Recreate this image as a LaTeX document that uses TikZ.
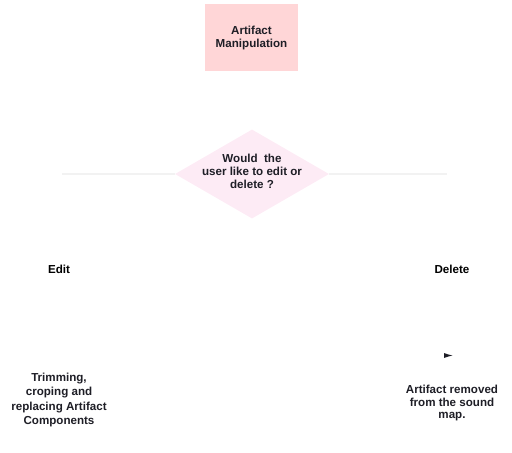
\documentclass[tikz,border=0pt]{standalone}
\usepackage{fontspec}
\setmainfont{Liberation Sans}
\usepackage{tikz}
\usetikzlibrary{positioning}
\usetikzlibrary{shapes.geometric}
\usetikzlibrary{arrows.meta}
\definecolor{boxpink}{RGB}{255,214,215}
\definecolor{diapink}{RGB}{253,235,245}
\definecolor{faintline}{RGB}{242,242,242}
\definecolor{inkgray}{RGB}{30,30,38}
\begin{document}
\begin{tikzpicture}[x=1pt, y=-1pt,
				internal/.style={rectangle, fill=boxpink, inner sep=4pt},
				decision/.style={diamond, fill=diapink, inner sep=0pt, aspect=1.74},
				txt/.style={text=inkgray, font=\bfseries\fontsize{11.6}{13}\selectfont},
				every text node part/.style={align=center}]
				\useasboundingbox (0,0) rectangle (512,453);
				
				\node[internal, txt, minimum width=93pt, minimum height=67pt](node1) at (251.5, 37.5) {Artifact\\Manipulation};
				
				\node[decision, minimum width=154pt, minimum height=89pt](node2) at (252, 174) {};
				\node[txt, yshift=3pt](node21) at (node2.center) {Would\ \ the\\user like to edit or\\delete ?};
				
				\node[txt, text=black](node3) at (59, 269) {Edit};
				\node[txt, text=black](node31) at (452, 269) {Delete};
				
				\node[txt, font=\bfseries\fontsize{11.6}{14.4}\selectfont](node4) at (59, 400) {Trimming,\\croping and\\replacing Artifact\\Components};
				\node[txt, font=\bfseries\fontsize{11.6}{12.6}\selectfont](node41) at (452, 403) {Artifact removed\\from the sound\\map.};
				
				\coordinate (left) at (62, 175);
				\coordinate (right) at (447, 175);
				\coordinate (tip) at (453, 355.5);
				
				\draw [faintline, line width=2pt] (node2.west) -- (left |- node2.west);
				\draw [faintline, line width=2pt] (node2.east) -- (right |- node2.east);
				\draw [white, line width=1pt, -{Latex[color=inkgray, length=9pt, width=5pt]}] (tip -| node41.west) -- (tip);
				
			\end{tikzpicture}
\end{document}
